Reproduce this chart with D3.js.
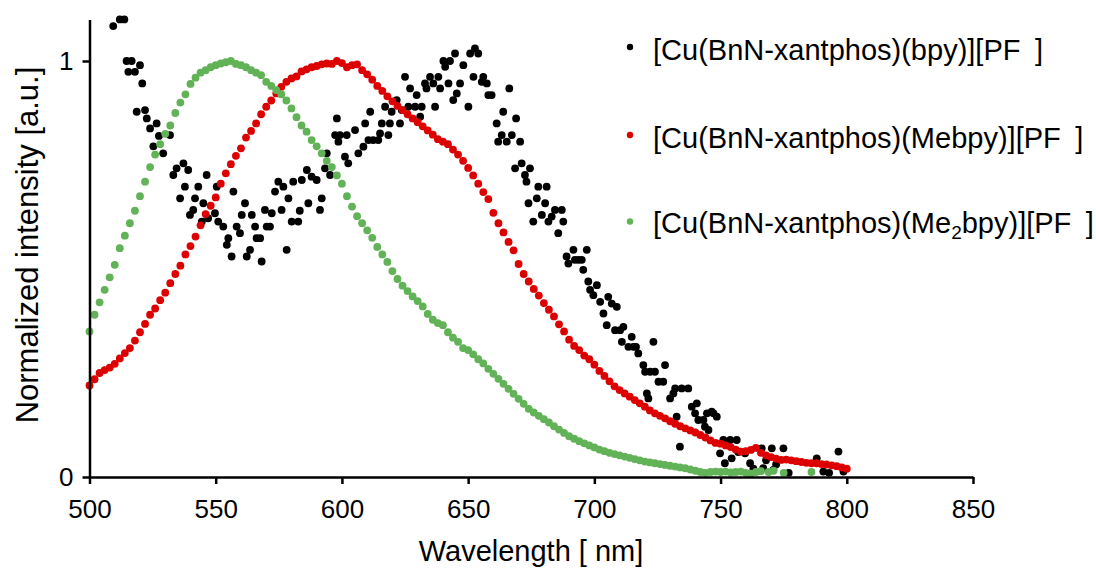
<!DOCTYPE html>
<html>
<head>
<meta charset="utf-8">
<script src="https://cdn.jsdelivr.net/npm/d3@7"></script>
<style>
body { margin: 0; background: #fff; }
text { font-family: "Liberation Sans", Arial, sans-serif; fill: #000; }
</style>
</head>
<body>
<div id="chart"></div>
<script>
// wavelength [nm], normalized intensity
var bpyData = [
  [509.4,1.084],[512,1.10],[513.8,1.10],[514.7,1.0],[515.4,0.974],[516.7,1.0],[518,0.974],[518.7,0.878],
  [520,0.99],[520.9,0.946],[522,0.882],[522.7,0.862],[524,0.838],[525.3,0.795],[526.6,0.85],[527.5,0.82],
  [529.2,0.778],[531.9,0.822],[533.2,0.726],[534.5,0.742],[535.9,0.67],[537.2,0.754],[537.8,0.698],
  [539.1,0.738],[539.8,0.63],[541.1,0.642],[541.8,0.67],[543.1,0.698],[544.5,0.614],[545.1,0.658],
  [546.4,0.726],[547,0.622],[549.7,0.634],[550.4,0.698],[551,0.614],[553,0.602],[554.4,0.558],[555,0.574],
  [556.3,0.53],[557,0.686],[558.3,0.602],[559.6,0.586],[560.3,0.63],[561.6,0.658],[562.3,0.53],[563.6,0.546],
  [564.3,0.63],[565.6,0.602],[566.2,0.574],[567.6,0.574],[568.2,0.518],[569.5,0.642],[570.2,0.602],
  [571.5,0.602],[572.2,0.634],[573.5,0.686],[574.8,0.71],[576.1,0.642],[576.8,0.698],[578.1,0.546],
  [578.8,0.67],[580.1,0.614],[580.7,0.71],[582.7,0.614],[583.3,0.64],[584.1,0.714],[586.1,0.738],
  [586.7,0.658],[588,0.722],[590,0.714],[591.3,0.642],[592,0.67],[593.3,0.742],[594,0.778],[595.3,0.726],
  [597.3,0.822],[598,0.862],[598.6,0.806],[599.2,0.822],[601.2,0.77],[601.9,0.822],[602.5,0.754],
  [605.2,0.834],[606.5,0.778],[608.5,0.794],[609.2,0.85],[610.5,0.81],[611.2,0.878],[612.4,0.81],
  [614.4,0.81],[615.1,0.826],[615.8,0.85],[617.1,0.89],[618.4,0.822],[619,0.85],[619.7,0.878],[621.7,0.906],
  [623,0.85],[623.7,0.882],[625,0.962],[626.3,0.89],[627,0.934],[629,0.89],[629.6,0.918],[631,0.866],
  [631.6,0.89],[632.9,0.946],[633.5,0.934],[634.9,0.962],[636.2,0.946],[636.9,0.89],[638.2,0.962],
  [638.9,0.934],[640.2,1.0],[640.9,0.986],[642.2,0.946],[642.8,1.0],[644.1,0.906],[644.8,1.018],
  [645.5,0.922],[646.8,0.946],[648.1,0.99],[650.1,0.89],[650.8,1.018],[652.1,0.962],[652.7,1.03],
  [654,1.018],[655.4,0.95],[656,0.962],[657.4,0.946],[658,0.918],[659.3,0.918],[661.3,0.85],[661.9,0.806],
  [663.3,0.822],[663.9,0.878],[665.3,0.806],[666.3,0.934],[667.3,0.822],[668.6,0.742],[669,0.862],
  [670.6,0.806],[671.2,0.754],[672.5,0.726],[673.1,0.71],[673.9,0.658],[674.5,0.742],[675.8,0.614],
  [677.2,0.67],[677.8,0.698],[679.2,0.63],[680.5,0.658],[681.1,0.698],[681.8,0.614],[683.1,0.626],
  [684.4,0.642],[685.7,0.586],[687.1,0.642],[687.7,0.614],[689,0.53],[689.7,0.513],[691.7,0.546],
  [692.3,0.522],[693.7,0.522],[695,0.522],[695.6,0.498],[697,0.546],[697.6,0.47],[698.3,0.45],[699.6,0.437],
  [701,0.461],[702.3,0.421],[703.6,0.393],[704.9,0.365],[705.5,0.433],[706.9,0.417],[708.2,0.353],
  [708.9,0.409],[710.2,0.353],[710.9,0.325],[711.5,0.361],[713.5,0.313],[714.8,0.337],[715.5,0.313],
  [716.5,0.313],[717.4,0.297],[719.4,0.269],[720.1,0.253],[720.8,0.201],[721.4,0.189],[722.1,0.253],
  [723.4,0.325],[724,0.253],[725.4,0.229],[727.3,0.229],[728,0.269],[730,0.189],[731.3,0.201],[732,0.213],
  [732.6,0.145],[733.9,0.073],[734.6,0.213],[737.2,0.213],[738.6,0.169],[739.9,0.153],[740.6,0.177],
  [741.2,0.137],[743.2,0.137],[743.8,0.121],[744.6,0.153],[745.2,0.113],[746.5,0.157],[747.2,0.153],
  [748.5,0.145],[749.8,0.057],[751.1,0.089],[751.7,0.033],[753.8,0.089],[754.4,0.045],[756.4,0.089],
  [757,0.06],[759.7,0.057],[761.7,0.033],[763,0.02],[766.3,0.069],[766.9,0.021],[768,0.04],[770.3,0.069],
  [770.9,0.017],[772,0.03],[774.9,0.069],[777,0.01],[788.1,0.045],[790.7,0.013],[793,0.01],[796.7,0.061],
  [798.7,0.013]
];

var mebpyData = [
  [500,0.22],[502,0.235],[504,0.25],[506,0.257],[508,0.263],[510,0.272],[512,0.285],[514,0.298],
  [516,0.31],[518,0.328],[520,0.348],[522,0.368],[524,0.39],[526,0.405],[528,0.425],[530,0.443],
  [532,0.466],[534,0.488],[536,0.508],[538,0.535],[540,0.555],[542,0.578],[544,0.605],[546,0.632],
  [548,0.652],[550,0.672],[552,0.705],[554,0.73],[556,0.752],[558,0.772],[560,0.79],[562,0.816],
  [564,0.832],[566,0.85],[568,0.872],[570,0.89],[572,0.905],[574,0.922],[576,0.938],[578,0.95],
  [580,0.958],[582,0.963],[584,0.975],[586,0.98],[588,0.985],[590,0.988],[592,0.992],[594,0.994],
  [596,0.993],[598,1.0],[600,0.995],[602,0.985],[604,0.99],[606,0.992],[608,0.978],[610,0.968],
  [612,0.955],[614,0.94],[616,0.928],[618,0.915],[620,0.903],[622,0.892],[624,0.882],[626,0.872],
  [628,0.862],[630,0.853],[632,0.843],[634,0.833],[636,0.823],[638,0.812],[640,0.806],[642,0.8],
  [644,0.787],[646,0.775],[648,0.76],[650,0.743],[652,0.725],[654,0.705],[656,0.685],[658,0.668],
  [660,0.635],[662,0.61],[664,0.588],[666,0.565],[668,0.545],[670,0.512],[672,0.488],[674,0.47],
  [676,0.452],[678,0.436],[680,0.418],[682,0.402],[684,0.386],[686,0.367],[688,0.35],[690,0.33],
  [692,0.315],[694,0.305],[696,0.292],[698,0.283],[700,0.27],[702,0.255],[704,0.243],[706,0.23],
  [708,0.218],[710,0.209],[712,0.201],[714,0.193],[716,0.185],[718,0.177],[720,0.169],[722,0.16],
  [724,0.153],[726,0.147],[728,0.141],[730,0.134],[732,0.128],[734,0.122],[736,0.117],[738,0.112],
  [740,0.107],[742,0.101],[744,0.095],[746,0.088],[748,0.082],[750,0.08],[752,0.076],[754,0.072],
  [756,0.066],[758,0.061],[760,0.062],[762,0.065],[764,0.07],[766,0.058],[768,0.052],[770,0.048],
  [772,0.044],[774,0.041],[776,0.042],[778,0.04],[780,0.038],[782,0.036],[784,0.034],[786,0.033],
  [788,0.033],[790,0.031],[792,0.03],[794,0.028],[796,0.026],[798,0.023],[800,0.02]
];

var me2bpyData = [
  [500,0.35],[502,0.39],[504,0.42],[506,0.45],[508,0.48],[510,0.51],[512,0.55],[514,0.58],[516,0.61],
  [518,0.64],[520,0.675],[522,0.71],[524,0.745],[526,0.775],[528,0.80],[530,0.825],[532,0.845],
  [534,0.875],[536,0.90],[538,0.92],[540,0.945],[542,0.96],[544,0.972],[546,0.978],[548,0.985],
  [550,0.99],[552,0.994],[554,0.997],[556,1.0],[558,0.993],[560,0.99],[562,0.985],[564,0.978],
  [566,0.972],[568,0.966],[570,0.95],[572,0.94],[574,0.93],[576,0.92],[578,0.905],[580,0.886],
  [582,0.865],[584,0.845],[586,0.83],[588,0.81],[590,0.795],[592,0.778],[594,0.76],[596,0.745],
  [598,0.725],[600,0.705],[602,0.675],[604,0.65],[606,0.627],[608,0.61],[610,0.593],[612,0.575],
  [614,0.553],[616,0.535],[618,0.517],[620,0.495],[622,0.476],[624,0.46],[626,0.447],[628,0.434],
  [630,0.423],[632,0.41],[634,0.392],[636,0.378],[638,0.37],[640,0.365],[642,0.348],[644,0.335],
  [646,0.325],[648,0.31],[650,0.305],[652,0.295],[654,0.283],[656,0.273],[658,0.26],[660,0.248],
  [662,0.236],[664,0.224],[666,0.212],[668,0.2],[670,0.188],[672,0.176],[674,0.164],[676,0.155],
  [678,0.147],[680,0.139],[682,0.131],[684,0.122],[686,0.114],[688,0.106],[690,0.098],[692,0.092],
  [694,0.086],[696,0.081],[698,0.076],[700,0.071],[702,0.066],[704,0.062],[706,0.058],[708,0.055],
  [710,0.052],[712,0.049],[714,0.046],[716,0.043],[718,0.04],[720,0.037],[722,0.035],[724,0.033],
  [726,0.031],[728,0.029],[730,0.027],[732,0.025],[734,0.023],[736,0.021],[738,0.018],[740,0.015],
  [742,0.012],[744,0.01],[746,0.012],[748,0.013],[750,0.012],[752,0.013],[754,0.011],[756,0.012],
  [758,0.013],[760,0.01],[762,0.008],[764,0.012],[766,0.014],[769,0.012],[771,0.015],[775,0.01],
  [786,0.012]
];

var xTicks = [500, 550, 600, 650, 700, 750, 800, 850];
var yTicks = [0, 1];
var seriesLabels = [
  ["[Cu(BnN-xantphos)(bpy)][PF\u2002]"],
  ["[Cu(BnN-xantphos)(Mebpy)][PF\u2002]"],
  ["[Cu(BnN-xantphos)(Me", "2", "bpy)][PF\u2002]"]
];

var width = 1096,
    height = 568;

var colors = ['#000000', '#dd0000', '#62b257'];
var allData = [bpyData, mebpyData, me2bpyData];

var svg = d3.select('#chart').append('svg')
    .attr('width', width)
    .attr('height', height);

var x = d3.scaleLinear().domain([500, 850]).range([89.5, 973]);
var y = d3.scaleLinear().domain([0, 1.1]).range([477, 19.4]);

// points, black first so the coloured ones sit on top
allData.forEach(function (data, i) {
    svg.append('g')
        .selectAll('circle')
        .data(data)
        .enter().append('circle')
        .attr('cx', function (d) { return x(d[0]); })
        .attr('cy', function (d) { return y(d[1]); })
        .attr('r', 3.9)
        .style('fill', colors[i]);
});

// axes
var xAxis = svg.append('g')
    .attr('transform', 'translate(0,477)')
    .call(d3.axisBottom(x).tickValues(xTicks).tickSizeInner(7).tickSizeOuter(0).tickPadding(16));

var yAxis = svg.append('g')
    .attr('transform', 'translate(89.5,0)')
    .call(d3.axisLeft(y).tickValues(yTicks).tickFormat(d3.format('d')).tickSizeInner(7).tickSizeOuter(0).tickPadding(9));

[xAxis, yAxis].forEach(function (g) {
    g.select('.domain').attr('stroke', '#000').attr('stroke-width', 2.5);
    g.selectAll('.tick line').attr('stroke', '#000').attr('stroke-width', 2.5);
    g.selectAll('.tick text')
        .style('font-family', '"Liberation Sans", Arial, sans-serif')
        .style('font-size', '26px')
        .attr('fill', '#000');
});

// axis titles
svg.append('text')
    .attr('x', 531)
    .attr('y', 561)
    .attr('text-anchor', 'middle')
    .style('font-size', '29px')
    .text('Wavelength [ nm]');

svg.append('text')
    .attr('transform', 'translate(38,245) rotate(-90)')
    .attr('text-anchor', 'middle')
    .style('font-size', '31px')
    .text('Normalized intensity [a.u.]');

// legend
var legendDotY = [47, 135, 221.5];
var legendTextY = [60, 148, 233];
var legend = svg.append('g');
seriesLabels.forEach(function (parts, i) {
    legend.append('circle')
        .attr('cx', 630)
        .attr('cy', legendDotY[i])
        .attr('r', 3.2)
        .style('fill', colors[i]);
    var t = legend.append('text')
        .attr('x', 653)
        .attr('y', legendTextY[i])
        .style('font-size', '29px')
        .style('white-space', 'pre');
    parts.forEach(function (p, j) {
        var ts = t.append('tspan').text(p);
        if (parts.length > 1 && j === 1) {
            ts.style('font-size', '19px').attr('dy', 6);
        } else if (j === 2) {
            ts.attr('dy', -6);
        }
    });
});
</script>
</body>
</html>
